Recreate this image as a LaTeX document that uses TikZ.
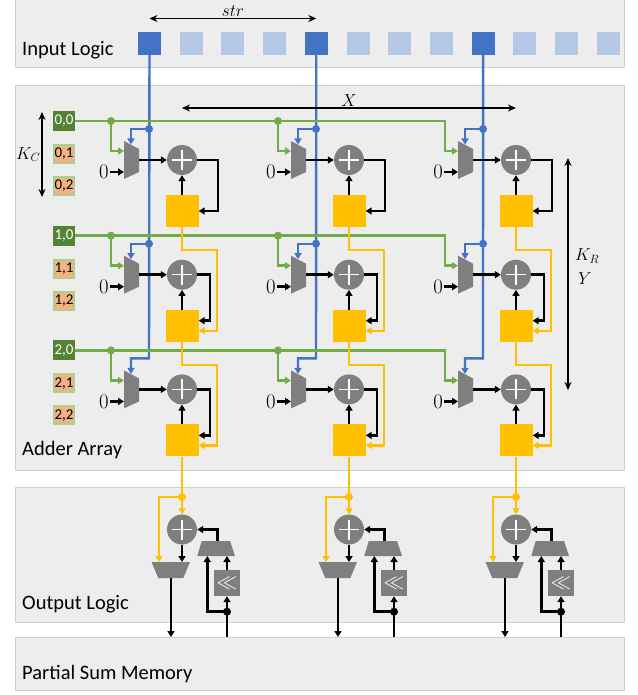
\documentclass[tikz,border=0pt]{standalone}
\usepackage[no-math]{fontspec}
\setmainfont{Carlito}
\usetikzlibrary{arrows.meta}

\definecolor{panelgray}{HTML}{EDEDED}
\definecolor{panelline}{HTML}{D0D0D0}
\definecolor{darkblue}{HTML}{4472C4}
\definecolor{lightblue}{HTML}{B4C7E7}
\definecolor{wiregreen}{HTML}{70AD47}
\definecolor{darkgreen}{HTML}{548235}
\definecolor{lightgreen}{HTML}{A9D18E}
\definecolor{weightorange}{HTML}{F4B183}
\definecolor{regyellow}{HTML}{FFC000}
\definecolor{unitgray}{HTML}{7F7F7F}

\begin{document}
\begin{tikzpicture}
      [%%%%%%%%%%%%%%%%%%%%%%%%%%%%%%
      x=1pt,y=-1pt,
      panel/.style={fill=panelgray,draw=panelline,line width=0.8pt},
      panellabel/.style={anchor=west,inner sep=0pt,font=\fontsize{20.5}{24}\selectfont},
      insq/.style={rectangle,fill=lightblue,minimum size=23pt,inner sep=0pt},
      insqon/.style={insq,fill=darkblue},
      wfirst/.style={rectangle,fill=darkgreen,text=white,minimum width=22pt,minimum height=20pt,inner sep=0pt,font=\fontsize{15}{15}\selectfont},
      wrest/.style={rectangle,fill=weightorange,draw=lightgreen,line width=2pt,minimum width=20pt,minimum height=18pt,inner sep=0pt,font=\fontsize{15}{15}\selectfont},
      adder/.style={circle,fill=unitgray,minimum size=30pt,inner sep=0pt,
        path picture={\draw[white,line width=1.3pt]
          ([xshift=-10pt]path picture bounding box.center) -- ([xshift=10pt]path picture bounding box.center)
          ([yshift=-10pt]path picture bounding box.center) -- ([yshift=10pt]path picture bounding box.center);}},
      reg/.style={rectangle,fill=regyellow,minimum width=33pt,minimum height=32pt,inner sep=0pt},
      shiftbox/.style={rectangle,fill=unitgray,text=white,minimum size=26pt,inner sep=0pt,font=\fontsize{20}{20}\selectfont},
      zero/.style={inner sep=0pt,font=\fontsize{21}{21}\selectfont},
      dimlab/.style={inner sep=1pt,font=\fontsize{18}{20}\selectfont},
      dim/.style={line width=1.3pt,{Stealth[length=8pt,width=7pt]}-{Stealth[length=8pt,width=7pt]}},
      tip/.style={-{Triangle[length=6pt,width=7pt]}},
      blk/.style={line width=2.5pt,black},
      blu/.style={line width=2.4pt,darkblue},
      grn/.style={line width=2.6pt,wiregreen},
      yel/.style={line width=2.4pt,regyellow},
      bdot/.style={circle,fill=black,minimum size=8pt,inner sep=0pt},
      bludot/.style={bdot,fill=darkblue},
      grndot/.style={bdot,fill=wiregreen},
      yeldot/.style={bdot,fill=regyellow},
      ]%%%%%%%%%%%%%%%%%%%%%%%%%%%%%%

      \useasboundingbox (0,0) rectangle (637,695);

      % panels
      \draw[panel] (15,-2) rectangle (624,67);
      \draw[panel] (15,85) rectangle (624,470);
      \draw[panel] (15,487) rectangle (624,622);
      \draw[panel] (15,637) rectangle (624,690);
      \node[panellabel] (lin) at (22,50) {Input Logic};
      \node[panellabel] (ladd) at (22,450) {Adder Array};
      \node[panellabel] (lout) at (22,604) {Output Logic};
      \node[panellabel] (lpsm) at (22,674) {Partial Sum Memory};

      % input logic
      \foreach \k in {0,...,11}{
        \node[insq] (in\k) at (149.5+41.7*\k,43.5){};
      }
      \foreach \k in {0,4,8}{
        \node[insqon] (in\k) at (149.5+41.7*\k,43.5){};
      }
      \draw[dim] ([yshift=25pt]in0.center) -- ([yshift=25pt]in4.center) node[dimlab,midway,above] (strlab) {$str$};

      % weights
      \foreach \r in {0,1,2}{
        \pgfmathsetmacro{\gy}{121+114.7*\r}
        \node[wfirst] (w\r0) at (64,\gy){\r,0};
        \node[wrest] (w\r1) at (64,\gy+33){\r,1};
        \node[wrest] (w\r2) at (64,\gy+65){\r,2};
      }
      \coordinate (kctop) at (42,112);
      \coordinate (kcbot) at (42,197);
      \draw[dim] (kctop) -- (kcbot) node[dimlab,midway,left] (kclab) {$K_C$};

      % muxes, pins
      \foreach \c in {0,1,2}{
        \pgfmathsetmacro{\cx}{182+167*\c}
        \foreach \r in {0,1,2}{
          \pgfmathsetmacro{\cy}{160+114.7*\r}
          \fill[unitgray] (\cx-58,\cy-19) -- (\cx-43,\cy-11) -- (\cx-43,\cy+12) -- (\cx-58,\cy+19) -- cycle;
          \coordinate (ma\r\c) at (\cx-58,\cy-9);
          \coordinate (mz\r\c) at (\cx-58,\cy+12);
          \coordinate (ms\r\c) at (\cx-51,\cy-15.5);
          \coordinate (mo\r\c) at (\cx-43,\cy);
        }
      }

      % input lines
      \foreach \c in {0,1,2}{
        \pgfmathsetmacro{\cx}{182+167*\c}
        \pgfmathtruncatemacro{\k}{4*\c}
        \draw[blu,tip] (in\k) -- (\cx-33,389.4-31) -| (ms2\c);
        \foreach \r in {0,1}{
          \pgfmathsetmacro{\cy}{160+114.7*\r}
          \node[bludot] (bd\r\c) at (\cx-33,\cy-31){};
          \draw[blu,tip] (bd\r\c.center) -| (ms\r\c);
        }
      }

      % weight lines
      \foreach \r in {0,1,2}{
        \pgfmathsetmacro{\gy}{121+114.7*\r}
        \draw[grn,tip] (w\r0) -- (445,\gy) |- (ma\r2);
        \foreach \c in {0,1}{
          \pgfmathsetmacro{\cx}{182+167*\c}
          \node[grndot] (gd\r\c) at (\cx-71,\gy){};
          \draw[grn,tip] (gd\r\c.center) |- (ma\r\c);
        }
      }

      % adder cells
      \foreach \c in {0,1,2}{
        \pgfmathsetmacro{\cx}{182+167*\c}
        \foreach \r in {0,1,2}{
          \pgfmathsetmacro{\cy}{160+114.7*\r}
          \node[zero] (zero\r\c) at (\cx-78,\cy+12){$0$};
          \draw[blk,tip] ([xshift=1pt]zero\r\c.east) -- (mz\r\c);
          \node[adder] (add\r\c) at (\cx,\cy){};
          \node[reg] (reg\r\c) at (\cx,\cy+51){};
          \draw[blk,tip] (mo\r\c) -- (add\r\c);
          \draw[blk,tip] (reg\r\c) -- (add\r\c);
          \ifnum\r=0
            \draw[blk,tip] (add\r\c.east) -- ++(21,0) |- (reg\r\c.east);
          \else
            \pgfmathtruncatemacro{\rp}{\r-1}
            \draw[yel,tip] (reg\rp\c.south) -- ++(0,23) -| ([xshift=18pt,yshift=-5pt]reg\r\c.east) -- ([yshift=-5pt]reg\r\c.east);
            \draw[blk,tip] (add\r\c.east) -- ++(13,0) |- ([yshift=5pt]reg\r\c.east);
          \fi
        }
      }
      \draw[dim] ([yshift=52pt]add00.center) -- ([yshift=52pt]add02.center) node[dimlab,midway,above] (xlab) {$X$};
      \coordinate (krtop) at (568,158);
      \coordinate (krbot) at (568,390);
      \draw[dim] (krtop) -- (krbot);
      \node[dimlab,anchor=west] (krlab) at (574,256) {$K_R$};
      \node[dimlab] (ylab) at (585,279) {$Y$};

      % output logic
      \foreach \c in {0,1,2}{
        \pgfmathsetmacro{\cx}{182+167*\c}
        \node[yeldot] (yd\c) at (\cx,497){};
        \draw[yel] (reg2\c) -- (yd\c.center);
        \node[adder] (oadd\c) at (\cx,529.5){};
        \draw[yel,tip] (yd\c.center) -- (oadd\c);
        \fill[unitgray] (\cx-30.5,562) -- (\cx+8,562) -- (\cx+1.3,578) -- (\cx-23.7,578) -- cycle;
        \coordinate (oy\c) at (\cx-23,562);
        \coordinate (oa\c) at (\cx,562);
        \coordinate (oo\c) at (\cx-11,578);
        \draw[yel,tip] (yd\c.center) -| (oy\c);
        \draw[blk,tip] (oadd\c) -- (oa\c);
        \coordinate (psmo\c) at (\cx-11,637);
        \draw[blk,tip] (oo\c) -- (psmo\c);
        \fill[unitgray] (\cx+19.7,541) -- (\cx+48,541) -- (\cx+53,556) -- (\cx+15.3,556) -- cycle;
        \coordinate (so\c) at (\cx+35.7,541);
        \coordinate (sa\c) at (\cx+25.3,556);
        \coordinate (sb\c) at (\cx+45,556);
        \draw[blk,tip] (so\c) |- (oadd\c.east);
        \node[shiftbox] (shl\c) at (\cx+45,583){$\ll$};
        \draw[blk,tip] (shl\c) -- (sb\c);
        \coordinate (psmi\c) at (\cx+45,637);
        \node[bdot] (od\c) at (\cx+45,611.7){};
        \draw[blk,tip] (psmi\c) -- (shl\c.south);
        \draw[blk,tip] (od\c.center) -| (sa\c);
      }
    \end{tikzpicture}
\end{document}
